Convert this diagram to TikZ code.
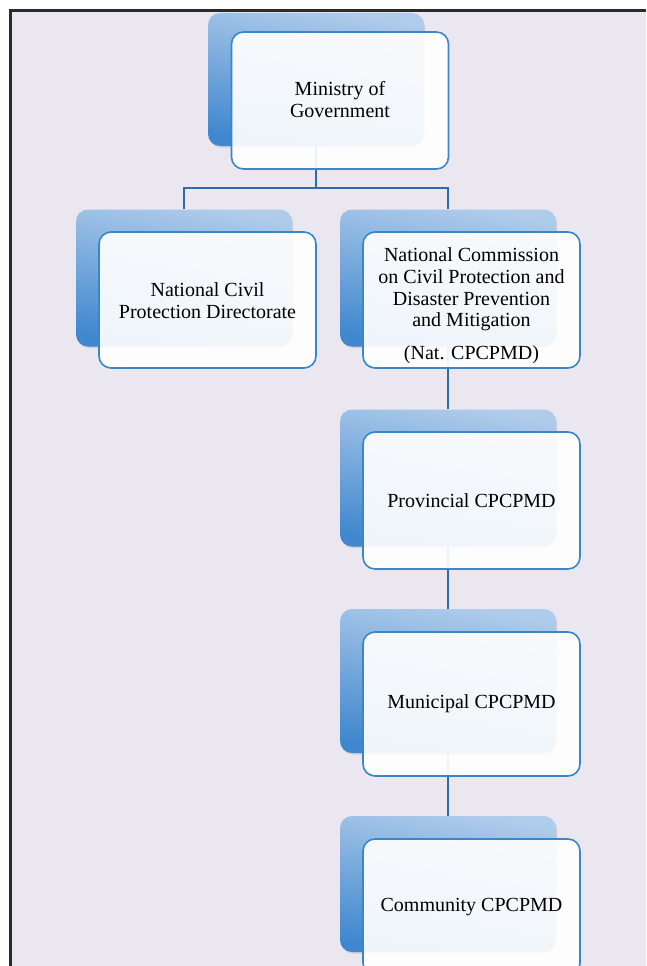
\documentclass[tikz,border=0pt]{standalone}
\usepackage{fontspec}
\setmainfont{Liberation Serif}
\usetikzlibrary{shadows}

\definecolor{paper}{HTML}{EBE7F1}
\definecolor{framegray}{HTML}{2B2B2B}
\definecolor{backlight}{HTML}{B0CCEB}
\definecolor{backdark}{HTML}{3F87CE}
\definecolor{boxedge}{HTML}{3B86C8}
\definecolor{linkblue}{HTML}{2D6CA6}

\newcommand{\boxtext}[2]{\raisebox{-#1}[0pt][0pt]{\begin{tabular}{@{}c@{}}#2\end{tabular}}}

\begin{document}
\begin{tikzpicture}[x=1pt,y=-1pt]
    \tikzstyle{backbox}=[rounded corners=12pt, minimum width=216pt, inner sep=0pt,
        top color=backlight, bottom color=backdark, shading angle=-10,
        drop shadow={shadow xshift=1pt, shadow yshift=-1.5pt, opacity=0.25}]
    \tikzstyle{frontbox}=[draw=boxedge, line width=1.6pt, rounded corners=12pt,
        fill=white, fill opacity=0.92, text opacity=1, minimum width=217pt,
        inner sep=0pt, align=center, font=\fontsize{20}{21.7}\selectfont]
    \tikzstyle{link}=[draw=linkblue, line width=1.8pt]

    \useasboundingbox (0,0) rectangle (646,966);
    \clip (0,0) rectangle (646,966);
    \fill[paper] (11,12) rectangle (646,966);

    % back boxes
    \node[backbox, minimum height=133pt] (mgb) at (316,79.5) {};
    \node[backbox, minimum height=137pt] (cdb) at (184,278) {};
    \node[backbox, minimum height=137pt] (ncb) at (448,278) {};
    \node[backbox, minimum height=137pt] (pcb) at (448,478) {};
    \node[backbox, minimum height=144pt] (mcb) at (448,681) {};
    \node[backbox, minimum height=136pt] (ccb) at (448,884) {};

    % connectors
    \draw[link] (mgb.south) -- ++(0,42) -| (cdb.north);
    \draw[link] (mgb.south) -- ++(0,42) -| (ncb.north);
    \draw[link] (ncb.south) -- (pcb.north);
    \draw[link] (pcb.south) -- (mcb.north);
    \draw[link] (mcb.south) -- (ccb.north);

    % front boxes
    \node[frontbox, minimum height=137pt] (mg) at (340,100.5) {\boxtext{7pt}{Ministry of\\Government}};
    \node[frontbox, minimum height=136pt] (cd) at (207.5,300) {\boxtext{8.5pt}{National Civil\\Protection Directorate}};
    \node[frontbox, minimum height=136pt] (nc) at (471.5,300)
        {\boxtext{11.5pt}{National Commission\\on Civil Protection and\\Disaster Prevention\\and Mitigation\\[11pt](Nat. CPCPMD)}};
    \node[frontbox, minimum height=137pt] (pc) at (471.5,500.5) {Provincial CPCPMD};
    \node[frontbox, minimum height=144pt] (mc) at (471.5,704) {Municipal CPCPMD};
    \node[frontbox, minimum height=136pt] (cc) at (471.5,907) {Community CPCPMD};

    % frame
    \draw[framegray, line width=3pt] (10,966) -- (10,11) -- (646,11);
\end{tikzpicture}
\end{document}
